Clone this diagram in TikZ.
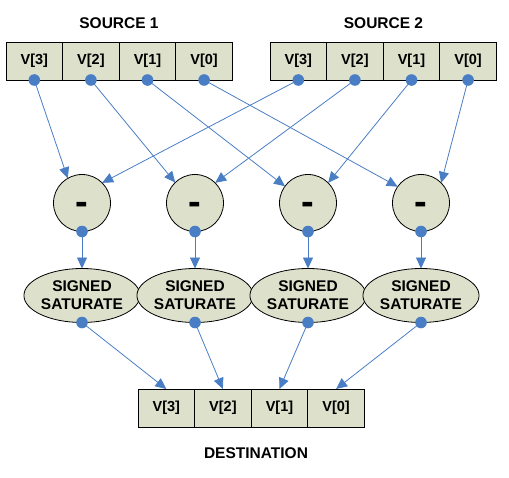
\documentclass[tikz,border=0pt]{standalone}
\usepackage{fontspec}
\setmainfont{Liberation Sans}
\usetikzlibrary{positioning, shapes.geometric, arrows.meta}
\definecolor{boxfill}{RGB}{221,224,203}
\definecolor{linkblue}{RGB}{74,126,196}

\begin{document}
\begin{tikzpicture}[x=1pt, y=-1pt,
	cell/.style={rectangle, draw=black, fill=boxfill, line width=0.8pt, minimum width=56.6pt, minimum height=38pt, inner sep=0pt, outer sep=0pt, font=\fontsize{14.5}{16}\selectfont\bfseries},
	title/.style={font=\fontsize{15.5}{18}\selectfont\bfseries},
	minus/.style={circle, draw=black, fill=boxfill, line width=0.8pt, minimum size=57pt, inner sep=0pt, outer sep=0pt, text height=23.5pt, text depth=0pt, font=\fontsize{38}{38}\selectfont\bfseries},
	sat/.style={ellipse, draw=black, fill=boxfill, line width=0.8pt, minimum width=99pt, minimum height=54pt, inner sep=0pt, outer sep=0pt, align=center, font=\fontsize{15.5}{18.3}\selectfont\bfseries},
	link/.style={draw=linkblue, line width=0.8pt, -{Triangle[length=11pt,width=10pt]}},
	pin/.style={fill=linkblue},
	]
	\useasboundingbox (0,0) rectangle (509,477);
	
	
	\node[title] (SourceOne) at (119,23) {SOURCE 1};
	\node[title] (SourceTwo) at (383.5,23) {SOURCE 2};
	
	\node[cell] (SrcA3) at (34.3,61) {V[3]};
	\node[cell, right=0pt of SrcA3] (SrcA2) {V[2]};
	\node[cell, right=0pt of SrcA2] (SrcA1) {V[1]};
	\node[cell, right=0pt of SrcA1] (SrcA0) {V[0]};
	
	\node[cell] (SrcB3) at (298.3,61) {V[3]};
	\node[cell, right=0pt of SrcB3] (SrcB2) {V[2]};
	\node[cell, right=0pt of SrcB2] (SrcB1) {V[1]};
	\node[cell, right=0pt of SrcB1] (SrcB0) {V[0]};
	
	\node[minus] (Diff3) at (82,203) {-};
	\node[minus, right=56pt of Diff3] (Diff2) {-};
	\node[minus, right=56pt of Diff2] (Diff1) {-};
	\node[minus, right=56pt of Diff1] (Diff0) {-};
	
	\node[sat, below=37pt of Diff3] (Sat3) {SIGNED\\SATURATE};
	\node[sat, below=37pt of Diff2] (Sat2) {SIGNED\\SATURATE};
	\node[sat, below=37pt of Diff1] (Sat1) {SIGNED\\SATURATE};
	\node[sat, below=37pt of Diff0] (Sat0) {SIGNED\\SATURATE};
	
	\node[cell] (Dest3) at (166.3,408) {V[3]};
	\node[cell, right=0pt of Dest3] (Dest2) {V[2]};
	\node[cell, right=0pt of Dest2] (Dest1) {V[1]};
	\node[cell, right=0pt of Dest1] (Dest0) {V[0]};
	
	\node[title] (Destination) at (256,453) {DESTINATION};
	
	
	\draw [link] (SrcA3.south) to (Diff3.120);
	\draw [link] (SrcB3.south) to (Diff3.45);
	\draw [link] (SrcA2.south) to (Diff2.134);
	\draw [link] (SrcB2.south) to (Diff2.45);
	\draw [link] (SrcA1.south) to (Diff1.144);
	\draw [link] (SrcB1.south) to (Diff1.45);
	\draw [link] (SrcA0.south) to (Diff0.145);
	\draw [link] (SrcB0.south) to (Diff0.45);
	
	\draw [link] (Diff3.south) to (Sat3.north);
	\draw [link] (Diff2.south) to (Sat2.north);
	\draw [link] (Diff1.south) to (Sat1.north);
	\draw [link] (Diff0.south) to (Sat0.north);
	
	\draw [link] (Sat3.south) to (Dest3.north);
	\draw [link] (Sat2.south) to (Dest2.north);
	\draw [link] (Sat1.south) to (Dest1.north);
	\draw [link] (Sat0.south) to (Dest0.north);
	
	
	\fill[pin] (SrcA3.south) circle (5.8pt);
	\fill[pin] (SrcA2.south) circle (5.8pt);
	\fill[pin] (SrcA1.south) circle (5.8pt);
	\fill[pin] (SrcA0.south) circle (5.8pt);
	\fill[pin] (SrcB3.south) circle (5.8pt);
	\fill[pin] (SrcB2.south) circle (5.8pt);
	\fill[pin] (SrcB1.south) circle (5.8pt);
	\fill[pin] (SrcB0.south) circle (5.8pt);
	\fill[pin] (Diff3.south) circle (5.8pt);
	\fill[pin] (Diff2.south) circle (5.8pt);
	\fill[pin] (Diff1.south) circle (5.8pt);
	\fill[pin] (Diff0.south) circle (5.8pt);
	\fill[pin] (Sat3.south) circle (5.8pt);
	\fill[pin] (Sat2.south) circle (5.8pt);
	\fill[pin] (Sat1.south) circle (5.8pt);
	\fill[pin] (Sat0.south) circle (5.8pt);
	
\end{tikzpicture}
\end{document}
